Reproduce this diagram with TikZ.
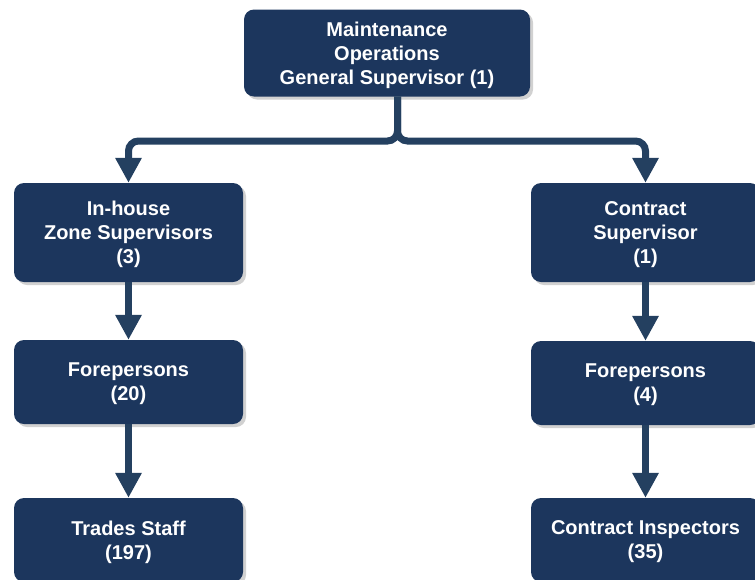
\documentclass[tikz,border=0pt]{standalone}
\usepackage{fontspec}
\setmainfont{Liberation Sans}
\usetikzlibrary{arrows.meta,shadows}

\definecolor{boxnavy}{RGB}{28,54,93}
\definecolor{linknavy}{RGB}{36,64,96}

\def\boxw{229pt}
\def\tallh{99pt}
\def\lowh{84pt}

\tikzset{
  orgbox/.style={fill=boxnavy, rounded corners=10pt, text=white, align=center,
    font=\bfseries\fontsize{20}{24}\selectfont, minimum width=\boxw, inner sep=0pt,
    text depth=-8pt,
    drop shadow={shadow xshift=3pt, shadow yshift=-3pt, opacity=0.3, fill=black!60}},
  link/.style={draw=linknavy, line width=7pt, rounded corners=10pt,
    -{Triangle[width=25pt,length=25pt]}},
}

\begin{document}
\begin{tikzpicture}[x=1pt,y=-1pt]
        \useasboundingbox (0,0) rectangle (755,579);
        \clip (0,0) rectangle (755,579);
        % general supervisor
        \node[orgbox, minimum width=286pt, minimum height=87pt] (gensup) at (387,53)
            {Maintenance\\Operations\\General Supervisor (1)};
        % in-house branch
        \node[orgbox, minimum height=\tallh] (zonesup) at (128.5,232.5) {In-house\\Zone Supervisors\\(3)};
        \node[orgbox, minimum height=\lowh] (inforep) at (128.5,382) {Forepersons\\(20)};
        \node[orgbox, minimum height=\lowh] (trades) at (128.5,540) {Trades Staff\\(197)};
        % contract branch
        \node[orgbox, minimum height=\tallh] (consup) at (645.5,232.5) {Contract\\Supervisor\\(1)};
        \node[orgbox, minimum height=\lowh] (conforep) at (645.5,383) {Forepersons\\(4)};
        \node[orgbox, minimum height=\lowh] (inspect) at (645.5,540) {Contract Inspectors\\(35)};
        % split below the top box
        \coordinate (split) at (397.5,141);
        \draw[link] (gensup.south -| split) -- (split) -| (zonesup.north);
        \draw[link] (gensup.south -| split) -- (split) -| (consup.north);
        % down each column
        \draw[link] (zonesup) -- (inforep);
        \draw[link] (inforep) -- (trades);
        \draw[link] (consup) -- (conforep);
        \draw[link] (conforep) -- (inspect);
    \end{tikzpicture}
\end{document}
